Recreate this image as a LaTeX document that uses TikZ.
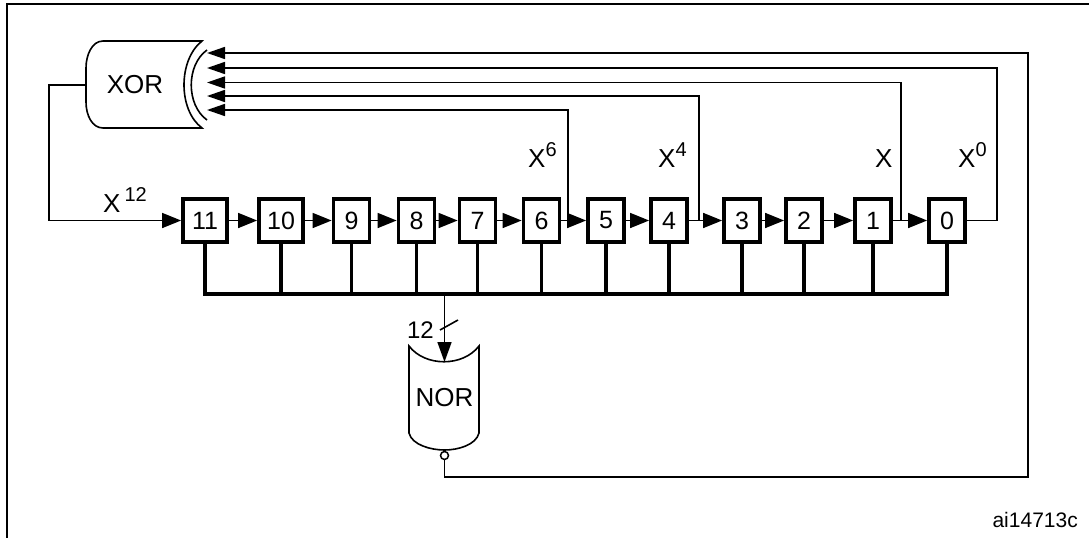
\documentclass[tikz,border=0pt]{standalone}
\usepackage{fontspec}
\setmainfont{Liberation Sans}
\usetikzlibrary{arrows.meta}
\newcommand\fsz[1]{\fontsize{#1}{#1}\selectfont}
\newcommand\Xp[1]{X\raisebox{10.5pt}{\fsz{20}#1}}
\begin{document}
\begin{tikzpicture}[x=1pt,y=-1pt,
  wire/.style={line width=1.6pt},
  busline/.style={line width=3.2pt},
  reg/.style={draw, line width=3.8pt, minimum width=36pt, minimum height=43pt, inner sep=0pt, font=\fsz{25}},
  wreg/.style={reg, minimum width=44pt},
  sarr/.style={wire, -{Triangle[length=19pt,width=15pt]}},
  xarr/.style={wire, -{Triangle[length=18pt,width=12pt]}},
  narr/.style={wire, -{Triangle[length=20pt,width=14pt]}},
  gate/.style={line width=1.6pt},
  lbl/.style={inner sep=0pt, anchor=base west, font=\fsz{26}},
]
\useasboundingbox (0,0) rectangle (1089,538);
% frame
\draw[wire] (1089,4) -- (7,4) -- (7,538);

% registers
\node[wreg] (b11) at (205,220.5) {11};
\node[wreg] (b10) at (281,220.5) {10};
\node[reg] (b9) at (351.5,220.5) {9};
\node[reg] (b8) at (416.5,220.5) {8};
\node[reg] (b7) at (477.5,220.5) {7};
\node[reg] (b6) at (541.5,220.5) {6};
\node[reg] (b5) at (606,220.5) {5};
\node[reg] (b4) at (669,220.5) {4};
\node[reg] (b3) at (742,220.5) {3};
\node[reg] (b2) at (804,220.5) {2};
\node[reg] (b1) at (873,220.5) {1};
\node[reg] (b0) at (947,220.5) {0};

\foreach \a/\b in {b11/b10,b10/b9,b9/b8,b8/b7,b7/b6,b6/b5,b5/b4,b4/b3,b3/b2,b2/b1,b1/b0}
  \draw[sarr] (\a.east) -- (\b.west);

% XOR gate
\draw[gate] (103,41) -- (202,41) .. controls (178,60) and (178,110) .. (202,128)
  -- (103,128) .. controls (92,128) and (86,115) .. (86,102) -- (86,68)
  .. controls (86,55) and (92,41) .. (103,41);
\draw[gate] (207,50) .. controls (186,65) and (186,105) .. (207,120);
\node[inner sep=0pt, font=\fsz{26}] (xor) at (135,85) {XOR};
\coordinate (xout) at (86,85);
\coordinate (xi1) at (207,53);
\coordinate (xi2) at (207,68);
\coordinate (xi3) at (207,82.5);
\coordinate (xi4) at (207,96);
\coordinate (xi5) at (207,110);

% XOR output to register 11
\coordinate (xc) at (49,85);
\draw[sarr] (xout) -- (xc) |- (b11.west);
\node[lbl] (l12) at (103,212) {X\kern4pt\raisebox{10.5pt}{\fsz{20}12}};

% taps
\coordinate (t6) at (568,220.5);
\coordinate (t4) at (699,220.5);
\coordinate (t1) at (901,220.5);
\coordinate (t0) at (997,220.5);
\draw[xarr] (t6) |- (xi5);
\draw[xarr] (t4) |- (xi4);
\draw[xarr] (t1) |- (xi3);
\draw[wire] (b0.east) -- (t0);
\draw[xarr] (t0) |- (xi2);
\node[lbl] (l6) at (528,167) {\Xp{6}};
\node[lbl] (l4) at (658,167) {\Xp{4}};
\node[lbl] (l1) at (875,167) {X};
\node[lbl] (l0) at (958,167) {\Xp{0}};

% bus
\coordinate (busL) at (205,294);
\coordinate (busR) at (947,294);
\draw[busline] (b11.south) -- (busL) -- (busR) -- (b0.south);
\foreach \n in {b10,b9,b8,b7,b6,b5,b4,b3,b2,b1}
  \draw[busline] (\n.south) -- (\n.south |- busL);

% NOR gate
\draw[gate] (409,346) .. controls (425,367) and (463,367) .. (479,346)
  -- (479,433) .. controls (476,445) and (458,450) .. (444.5,450)
  .. controls (431,450) and (412,445) .. (409,433) -- cycle;
\node[inner sep=0pt, font=\fsz{26}] (nor) at (444.5,398) {NOR};
\node[circle, draw, line width=1.5pt, minimum size=8pt, inner sep=0pt] (bub) at (444.5,455.5) {};
\coordinate (drop) at (444.5,294);
\coordinate (norin) at (444.5,362);
\draw[narr] (drop) -- (norin);
\coordinate (s1) at (440,330);
\coordinate (s2) at (458,320);
\draw[wire] (s1) -- (s2);
\node[inner sep=0pt, anchor=base east, font=\fsz{24}] (n12) at (434,338) {12};

% NOR output back to XOR
\coordinate (nc) at (1028,477);
\draw[xarr] (bub.south) |- (nc) |- (xi1);

\node[inner sep=0pt, anchor=base east, font=\fsz{21}] (id) at (1078,527) {ai14713c};
\end{tikzpicture}
\end{document}
